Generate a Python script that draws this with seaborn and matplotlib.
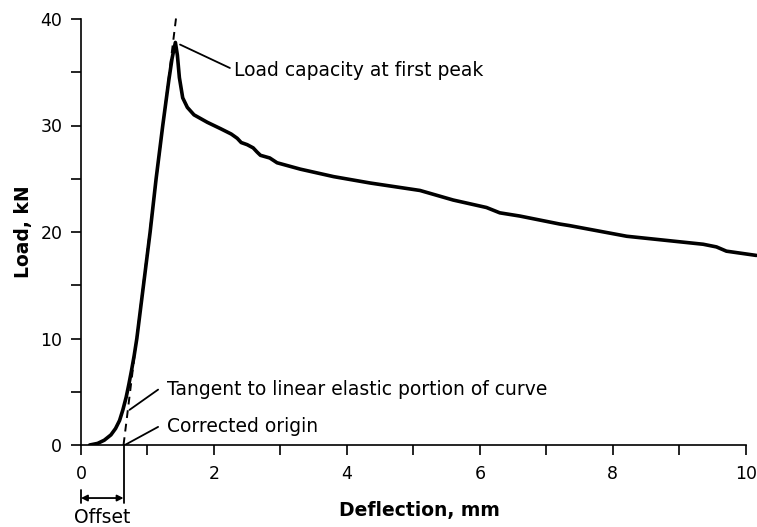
import pandas as pd
import seaborn as sns
import matplotlib.pyplot as plt

# load-deflection curve
deflection = [0.13, 0.25, 0.35, 0.45, 0.52, 0.58, 0.63, 0.68, 0.72, 0.76, 0.80, 0.84,
              0.94, 1.04, 1.13, 1.23, 1.32, 1.37, 1.42, 1.45, 1.48, 1.53, 1.60, 1.70,
              1.90, 2.10, 2.26, 2.35, 2.41, 2.50, 2.59, 2.65, 2.70, 2.84, 2.95, 3.30,
              3.80, 4.35, 5.10, 5.60, 6.10, 6.30, 6.60, 7.20, 7.35, 8.21, 9.36, 9.56,
              9.71, 10.16]
load = [0.0, 0.15, 0.45, 0.95, 1.55, 2.3, 3.3, 4.5, 5.7, 7.0, 8.4, 10.0,
        15.0, 20.0, 25.0, 30.0, 34.2, 36.3, 37.8, 36.6, 34.5, 32.6, 31.7, 31.0,
        30.3, 29.7, 29.2, 28.8, 28.4, 28.2, 27.9, 27.5, 27.2, 26.95, 26.5, 25.9,
        25.2, 24.6, 23.9, 23.0, 22.3, 21.8, 21.5, 20.75, 20.6, 19.6, 18.85, 18.6,
        18.2, 17.8]

tangent_x = [0.64, 1.43]
tangent_y = [0.0, 40.1]
offset = 0.64

df = pd.DataFrame({"Deflection, mm": deflection, "Load, kN": load})

sns.set_style("ticks")
plt.rcParams["text.color"] = "black"
plt.rcParams["axes.labelcolor"] = "black"
plt.rcParams["xtick.color"] = "black"
plt.rcParams["ytick.color"] = "black"

fig = plt.figure(figsize=(7.57, 5.27), dpi=100)
ax = fig.add_axes([81 / 757, 82 / 527, 676 / 757, 426 / 527])

sns.lineplot(data=df, x="Deflection, mm", y="Load, kN", color="black", lw=2.6, ax=ax,
             sort=False, estimator=None)
ax.plot(tangent_x, tangent_y, color="black", lw=1.4, ls=(0, (4, 3)), clip_on=False)

ax.set_xlim(0, 10.17)
ax.set_ylim(0, 40)
sns.despine(ax=ax)
ax.spines["bottom"].set_bounds(0, 10)
ax.spines["left"].set_bounds(0, 40)
for s in ["bottom", "left"]:
    ax.spines[s].set_linewidth(1.2)
    ax.spines[s].set_color("black")

ax.set_xticks([0, 2, 4, 6, 8, 10])
ax.set_xticks([1, 3, 5, 7, 9], minor=True)
ax.set_yticks([0, 10, 20, 30, 40])
ax.set_yticks([5, 15, 25, 35], minor=True)
ax.tick_params(which="both", length=7.5, width=1.2, color="black", labelsize=12.5)
ax.tick_params(axis="x", pad=7)
ax.tick_params(axis="y", pad=6)

ax.set_xlabel("Deflection, mm", fontsize=13.5, fontweight="bold", labelpad=13)
ax.set_ylabel("Load, kN", fontsize=13.5, fontweight="bold", labelpad=5)

# annotations
fs = 13.5
ax.plot([1.49, 2.24], [37.6, 35.4], color="black", lw=1.3)
ax.text(2.30, 35.2, "Load capacity at first peak", fontsize=fs, va="center")
ax.plot([0.73, 1.16], [3.3, 5.2], color="black", lw=1.3)
ax.text(1.29, 5.2, "Tangent to linear elastic portion of curve", fontsize=fs, va="center")
ax.plot([0.66, 1.16], [0.0, 1.7], color="black", lw=1.3)
ax.text(1.29, 1.75, "Corrected origin", fontsize=fs, va="center")

# offset marker below the axis
ax.plot([offset, offset], [0, -5.45], color="black", lw=1.3, clip_on=False)
ax.plot([0, 0], [-4.2, -5.45], color="black", lw=1.3, clip_on=False)
ax.annotate("", xy=(0, -4.98), xytext=(offset, -4.98), annotation_clip=False,
            arrowprops=dict(arrowstyle="<|-|>", color="black", lw=1.3,
                            mutation_scale=9, shrinkA=0, shrinkB=0))
ax.text(0.32, -6.8, "Offset", fontsize=fs, ha="center", va="center", clip_on=False)

plt.savefig("out.png", dpi=100)
